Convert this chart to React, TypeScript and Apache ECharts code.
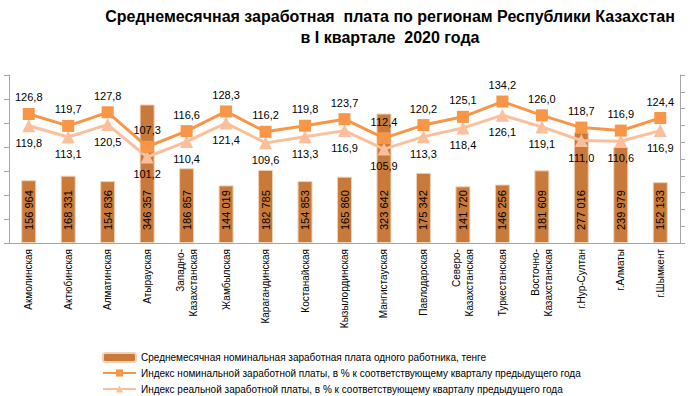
import React, { useEffect, useRef } from "react";
import * as echarts from "echarts";

const categories = [
  "Акмолинская", "Актюбинская", "Алматинская", "Атырауская",
  "Западно-\nКазахстанская", "Жамбылская", "Карагандинская", "Костанайская",
  "Кызылординская", "Мангистауская", "Павлодарская", "Северо-\nКазахстанская",
  "Туркестанская", "Восточно-\nКазахстанская", "г.Нур-Султан", "г.Алматы", "г.Шымкент",
];
const salary = [156964, 168331, 154836, 346357, 186857, 144019, 182785, 154853, 165860, 323642, 175342, 141720, 146256, 181609, 277016, 239979, 152133];
const nominalIndex = [126.8, 119.7, 127.8, 107.3, 116.6, 128.3, 116.2, 119.8, 123.7, 112.4, 120.2, 125.1, 134.2, 126.0, 118.7, 116.9, 124.4];
const realIndex = [119.8, 113.1, 120.5, 101.2, 110.4, 121.4, 109.6, 113.3, 116.9, 105.9, 113.3, 118.4, 126.1, 119.1, 111.0, 110.6, 116.9];

const seriesNames = [
  "Среднемесячная номинальная заработная плата одного работника, тенге",
  "Индекс номинальной заработной платы, в % к соответствующему кварталу предыдущего года",
  "Индекс реальной заработной платы, в % к соответствующему кварталу предыдущего года",
];

const FONT = "Arial, 'Liberation Sans', sans-serif";
const fmtPct = (v: number) => v.toFixed(1).replace(".", ",");
const fmtThousands = (v: number) => String(v).replace(/\B(?=(\d{3})+(?!\d))/g, " ");

const legendTops = [347, 363, 379];

export default function App() {
  const ref = useRef<HTMLDivElement>(null);
  useEffect(() => {
    document.body.style.margin = "0";
    const chart = echarts.init(ref.current!, null, { renderer: "svg" });
    chart.setOption({
      animation: false,
      backgroundColor: "#ffffff",
      title: {
        text: "Среднемесячная заработная  плата по регионам Республики Казахстан\nв I квартале  2020 года",
        left: 385,
        textAlign: "center",
        top: 1,
        textStyle: { fontFamily: FONT, fontSize: 16, fontWeight: "bold", color: "#000", lineHeight: 21 },
      },
      legend: seriesNames.map((n, i) => ({
        orient: "horizontal",
        left: 97,
        top: legendTops[i],
        itemWidth: 33,
        itemHeight: 9,
        itemGap: 4,
        textStyle: { fontFamily: FONT, fontSize: 10, color: "#000" },
        data: [n],
      })),
      grid: { left: 9, right: 10, top: 75, height: 168, containLabel: false },
      xAxis: {
        type: "category",
        data: categories,
        axisLine: { lineStyle: { color: "#A6A6A6" } },
        axisTick: { lineStyle: { color: "#A6A6A6" } },
        axisLabel: { rotate: 90, interval: 0, fontFamily: FONT, fontSize: 10, color: "#000", margin: 6, lineHeight: 13 },
      },
      yAxis: [
        {
          type: "value", min: 0, max: 420000, interval: 60000,
          axisLine: { show: true, lineStyle: { color: "#A6A6A6" } },
          axisTick: { show: true, lineStyle: { color: "#A6A6A6" } },
          axisLabel: { show: false },
          splitLine: { show: false },
        },
        {
          type: "value", min: 50, max: 150, interval: 10, position: "right",
          axisLine: { show: true, lineStyle: { color: "#A6A6A6" } },
          axisTick: { show: true, lineStyle: { color: "#A6A6A6" } },
          axisLabel: { show: false },
          splitLine: { show: false },
        },
      ],
      series: [
        {
          name: seriesNames[0],
          type: "bar",
          data: salary,
          barWidth: "38%",
          itemStyle: { color: "#C97A3A", borderColor: "#F0D2B8", borderWidth: 1 },
          label: {
            show: true,
            position: "insideBottom",
            rotate: 90,
            align: "left",
            verticalAlign: "middle",
            distance: 13,
            fontFamily: FONT,
            fontSize: 11,
            color: "#000",
            formatter: (p: any) => fmtThousands(p.value),
          },
        },
        {
          name: seriesNames[1],
          type: "line",
          yAxisIndex: 1,
          data: nominalIndex,
          symbol: "rect",
          symbolSize: 12,
          lineStyle: { color: "#F79646", width: 3 },
          itemStyle: { color: "#F79646" },
          label: {
            show: true, position: "top", distance: 5,
            fontFamily: FONT, fontSize: 11, color: "#000",
            formatter: (p: any) => fmtPct(p.value),
          },
          z: 4,
        },
        {
          name: seriesNames[2],
          type: "line",
          yAxisIndex: 1,
          data: realIndex,
          symbol: "triangle",
          symbolSize: 13,
          lineStyle: { color: "#FBBF9C", width: 3 },
          itemStyle: { color: "#FBBF9C" },
          label: {
            show: true, position: "bottom", distance: 5,
            fontFamily: FONT, fontSize: 11, color: "#000",
            formatter: (p: any) => fmtPct(p.value),
          },
          z: 3,
        },
      ],
    });
    return () => chart.dispose();
  }, []);
  return <div ref={ref} style={{ width: 690, height: 396 }} />;
}
